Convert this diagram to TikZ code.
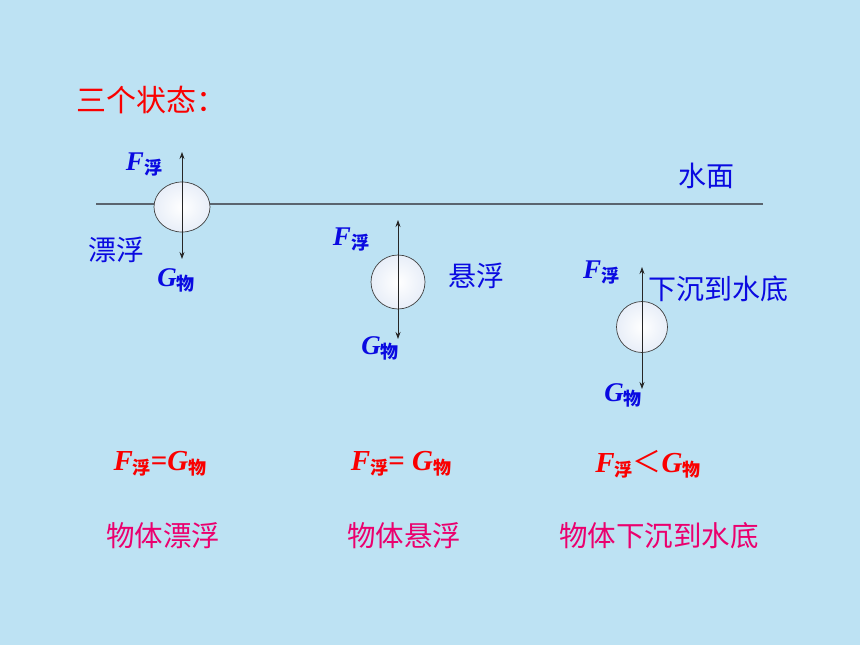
\documentclass[tikz,border=0pt]{standalone}
\usepackage{fontspec}
\setmainfont{Liberation Serif}
\newfontfamily\cjk{Noto Sans CJK SC}
\usetikzlibrary{arrows.meta,shapes.geometric}
\definecolor{bg}{RGB}{189,226,243}
\definecolor{tblue}{RGB}{10,10,225}
\definecolor{tred}{RGB}{250,0,0}
\definecolor{tpink}{RGB}{235,0,110}
\definecolor{wline}{RGB}{90,100,110}
\definecolor{ballb}{RGB}{232,238,248}
\newcommand{\Fsym}[1]{{\fontsize{#1}{#1}\selectfont\bfseries\itshape F}}
\newcommand{\Gsym}[1]{{\fontsize{#1}{#1}\selectfont\bfseries\itshape G}}
\newcommand{\sbs}[2]{\raisebox{-4pt}{\cjk\bfseries\fontsize{#1}{#1}\selectfont #2}}
\tikzset{
  ball/.style={ellipse, draw=black!75, line width=0.7pt, inner sep=0pt,
    inner color=white, outer color=ballb},
  force/.style={draw=black!85, line width=0.8pt, {Stealth[length=7pt,width=5pt]}-{Stealth[length=7pt,width=5pt]}},
  flabel/.style={text=tblue, inner sep=0pt},
  cnblue/.style={text=tblue, inner sep=0pt, font=\cjk\fontsize{28}{28}\selectfont},
  formula/.style={text=tred, inner sep=0pt},
  cnpink/.style={text=tpink, inner sep=0pt, font=\cjk\fontsize{28.5}{28.5}\selectfont},
}
\begin{document}
\begin{tikzpicture}[x=1pt,y=-1pt]
\fill[bg] (0,0) rectangle (860,645);
\useasboundingbox (0,0) rectangle (860,645);

% title
\node[text=tred, inner sep=0pt, font=\cjk\fontsize{30}{30}\selectfont] (title) at (151,100) {三个状态：};

% water surface
\coordinate (wl) at (96,204);
\coordinate (wr) at (763,204);
\draw[wline, line width=1.2pt] (wl) -- (wr);
\node[cnblue] (shuimian) at (706,176) {水面};

% ball 1 floating
\node[ball, minimum width=56pt, minimum height=50pt] (b1) at (182,207) {};
\coordinate (f1) at (182,152);
\coordinate (g1) at (182,259);
\draw[force] (f1) -- (g1);
\node[flabel] (F1) at (144,165) {\Fsym{27}\sbs{18}{浮}};
\node[flabel] (G1) at (176,280) {\Gsym{27}\sbs{18}{物}};
\node[cnblue] (piaofu) at (116,250) {漂浮};

% ball 2 suspended
\node[ball, circle, minimum size=54pt] (b2) at (398,282) {};
\coordinate (f2) at (398,220);
\coordinate (g2) at (398,339);
\draw[force] (f2) -- (g2);
\node[flabel] (F2) at (351,240) {\Fsym{27}\sbs{18}{浮}};
\node[flabel] (G2) at (380,348) {\Gsym{27}\sbs{18}{物}};
\node[cnblue] (xuanfu) at (476,276) {悬浮};

% ball 3 sinking
\node[ball, circle, minimum size=51pt] (b3) at (642,327) {};
\coordinate (f3) at (642,267);
\coordinate (g3) at (642,389);
\draw[force] (f3) -- (g3);
\node[flabel] (F3) at (601,273) {\Fsym{27}\sbs{18}{浮}};
\node[flabel] (G3) at (623,395) {\Gsym{27}\sbs{18}{物}};
\node[cnblue] (xiachen) at (718,289) {下沉到水底};

% formulas
\node[formula] (e1) at (160,464) {\Fsym{29}\sbs{18}{浮}{\fontsize{29}{29}\selectfont\bfseries=}\Gsym{29}\sbs{18}{物}};
\node[formula] (e2) at (401,464) {\Fsym{29}\sbs{18}{浮}{\fontsize{29}{29}\selectfont\bfseries= }\Gsym{29}\sbs{18}{物}};
\node[formula] (e3) at (648,464) {\Fsym{29}\sbs{18}{浮}{\cjk\fontsize{29}{29}\selectfont ＜}\Gsym{29}\sbs{18}{物}};

% bottom texts
\node[cnpink] (t1) at (163,536) {物体漂浮};
\node[cnpink] (t2) at (404,536) {物体悬浮};
\node[cnpink] (t3) at (659,536) {物体下沉到水底};
\end{tikzpicture}
\end{document}
